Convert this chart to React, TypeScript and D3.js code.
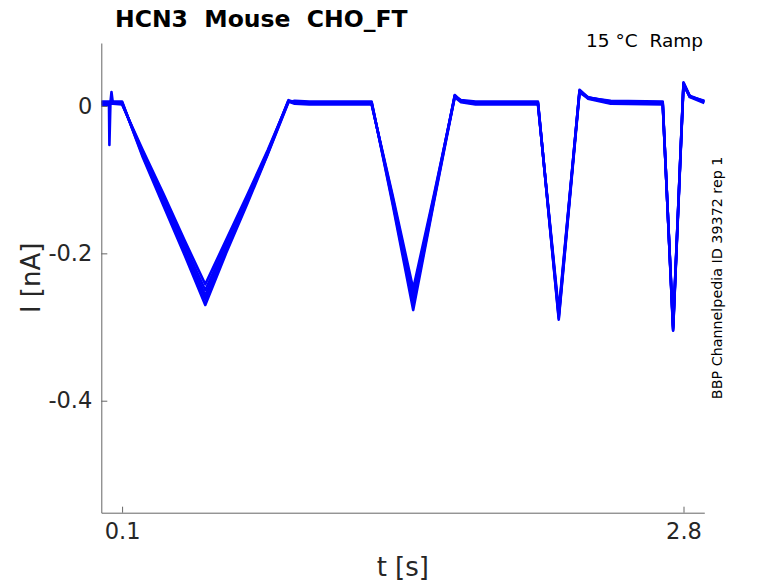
import { useEffect, useRef } from "react";
import * as d3 from "d3";

// sample times (s) shared by all sweeps
const times = [
  0, 0.037, 0.039, 0.044, 0.049, 0.056, 0.1, 0.2, 0.3, 0.4, 0.5, 0.6, 0.7, 0.8, 0.9,
  0.93, 1.0, 1.3, 1.4, 1.5, 1.6, 1.7, 1.73, 1.8, 2.1, 2.2, 2.3, 2.34, 2.45, 2.7, 2.75,
  2.8, 2.83, 2.9,
];

// current (nA) for each recorded sweep
const sweepA = [
  0.001, 0.001, -0.053, 0.005, 0.019, 0.003, 0.002, -0.06, -0.12, -0.182, -0.242,
  -0.182, -0.122, -0.06, 0.006, 0.003, 0.002, 0.002, -0.12, -0.248, -0.12, 0.012,
  0.005, 0.002, 0.002, -0.278, 0.02, 0.01, 0.003, 0.002, -0.298, 0.03, 0.012, 0.004,
];
const sweepD = [
  0.003, 0.003, 0.003, 0.003, 0.003, 0.003, 0.003, -0.063, -0.125, -0.188, -0.25,
  -0.187, -0.125, -0.062, 0.007, 0.004, 0.003, 0.003, -0.123, -0.255, -0.123, 0.014,
  0.006, 0.003, 0.003, -0.282, 0.021, 0.011, 0.004, 0.003, -0.3, 0.031, 0.013, 0.005,
];
const sweepB = [
  0.004, 0.004, 0.004, 0.004, 0.004, 0.004, 0.004, -0.066, -0.13, -0.194, -0.257,
  -0.192, -0.128, -0.064, 0.008, 0.005, 0.004, 0.004, -0.126, -0.262, -0.126, 0.015,
  0.007, 0.004, 0.004, -0.285, 0.022, 0.012, 0.005, 0.004, -0.302, 0.032, 0.014, 0.006,
];
const sweepE = [
  0.005, 0.005, 0.005, 0.005, 0.005, 0.005, 0.005, -0.068, -0.133, -0.198, -0.263,
  -0.196, -0.131, -0.065, 0.006, 0.006, 0.005, 0.005, -0.129, -0.27, -0.128, 0.014,
  0.007, 0.005, 0.005, -0.288, 0.02, 0.012, 0.006, 0.005, -0.304, 0.03, 0.013, 0.006,
];
const sweepC = [
  0.006, 0.006, 0.006, 0.006, 0.006, 0.006, 0.006, -0.07, -0.136, -0.202, -0.27,
  -0.2, -0.134, -0.066, 0.005, 0.007, 0.006, 0.006, -0.132, -0.277, -0.13, 0.013,
  0.008, 0.006, 0.006, -0.29, 0.018, 0.011, 0.007, 0.006, -0.305, 0.028, 0.013, 0.007,
];
const sweeps = [sweepA, sweepD, sweepB, sweepE, sweepC];

const xTicks = [0.1, 2.8];
const yTicks = [0, -0.2, -0.4];

const title = "HCN3  Mouse  CHO_FT";
const condition = "15 °C  Ramp";
const sideNote = "BBP Channelpedia ID 39372 rep 1";

const W = 778;
const H = 583;

export default function App() {
  const svgRef = useRef<SVGSVGElement>(null);

  useEffect(() => {
    if (!svgRef.current) return;
    const svg = d3.select(svgRef.current);
    svg.selectAll("*").remove();

    const left = 101.3;
    const right = 704.3;
    const top = 43;
    const bottom = 512.7;
    const font = "DejaVu Sans, sans-serif";

    const x = d3.scaleLinear().domain([0, 2.9]).range([left, right]);
    const y = d3.scaleLinear().domain([-0.552, 0.0855]).range([bottom, top]);

    // traces
    const line = d3.line<number>()
      .x((_, i) => x(times[i]))
      .y(d => y(d));

    sweeps.forEach(s => {
      svg.append("path")
        .datum(s)
        .attr("fill", "none")
        .attr("stroke", "#0000ff")
        .attr("stroke-width", 2.6)
        .attr("stroke-linejoin", "round")
        .attr("d", line);
    });

    // axes
    const xAxis = d3.axisBottom(x)
      .tickValues(xTicks)
      .tickSizeInner(-6)
      .tickSizeOuter(0)
      .tickPadding(10)
      .tickFormat(d => String(d));

    const yAxis = d3.axisLeft(y)
      .tickValues(yTicks)
      .tickSizeInner(-6)
      .tickSizeOuter(0)
      .tickPadding(9)
      .tickFormat(d => String(d));

    const gx = svg.append("g")
      .attr("transform", `translate(0,${bottom})`)
      .call(xAxis);
    const gy = svg.append("g")
      .attr("transform", `translate(${left},0)`)
      .call(yAxis);

    [gx, gy].forEach(g => {
      g.select(".domain").attr("stroke", "#666").attr("stroke-width", 1);
      g.selectAll(".tick line").attr("stroke", "#666");
      g.selectAll(".tick text")
        .attr("fill", "#262626")
        .attr("font-family", font)
        .attr("font-size", "22.5px");
    });

    // axis labels
    svg.append("text")
      .attr("x", (left + right) / 2)
      .attr("y", 576)
      .attr("text-anchor", "middle")
      .attr("fill", "#262626")
      .attr("font-family", font)
      .attr("font-size", "26px")
      .text("t [s]");

    svg.append("text")
      .attr("transform", `translate(40,${(top + bottom) / 2}) rotate(-90)`)
      .attr("text-anchor", "middle")
      .attr("fill", "#262626")
      .attr("font-family", font)
      .attr("font-size", "26px")
      .text("I [nA]");

    // title and notes
    svg.append("text")
      .attr("x", 115)
      .attr("y", 27)
      .attr("fill", "#000")
      .attr("font-family", font)
      .attr("font-weight", "bold")
      .attr("font-size", "23.5px")
      .style("white-space", "pre")
      .text(title);

    svg.append("text")
      .attr("x", 703)
      .attr("y", 47.3)
      .attr("text-anchor", "end")
      .attr("fill", "#000")
      .attr("font-family", font)
      .attr("font-size", "18.5px")
      .style("white-space", "pre")
      .text(condition);

    svg.append("text")
      .attr("transform", `translate(722,${(top + bottom) / 2}) rotate(-90)`)
      .attr("text-anchor", "middle")
      .attr("fill", "#000")
      .attr("font-family", font)
      .attr("font-size", "14.3px")
      .text(sideNote);
  }, []);

  return (
    <svg
      ref={svgRef}
      width={W}
      height={H}
      viewBox={`0 0 ${W} ${H}`}
      style={{ position: "absolute", left: 0, top: 0, background: "#fff" }}
    />
  );
}
